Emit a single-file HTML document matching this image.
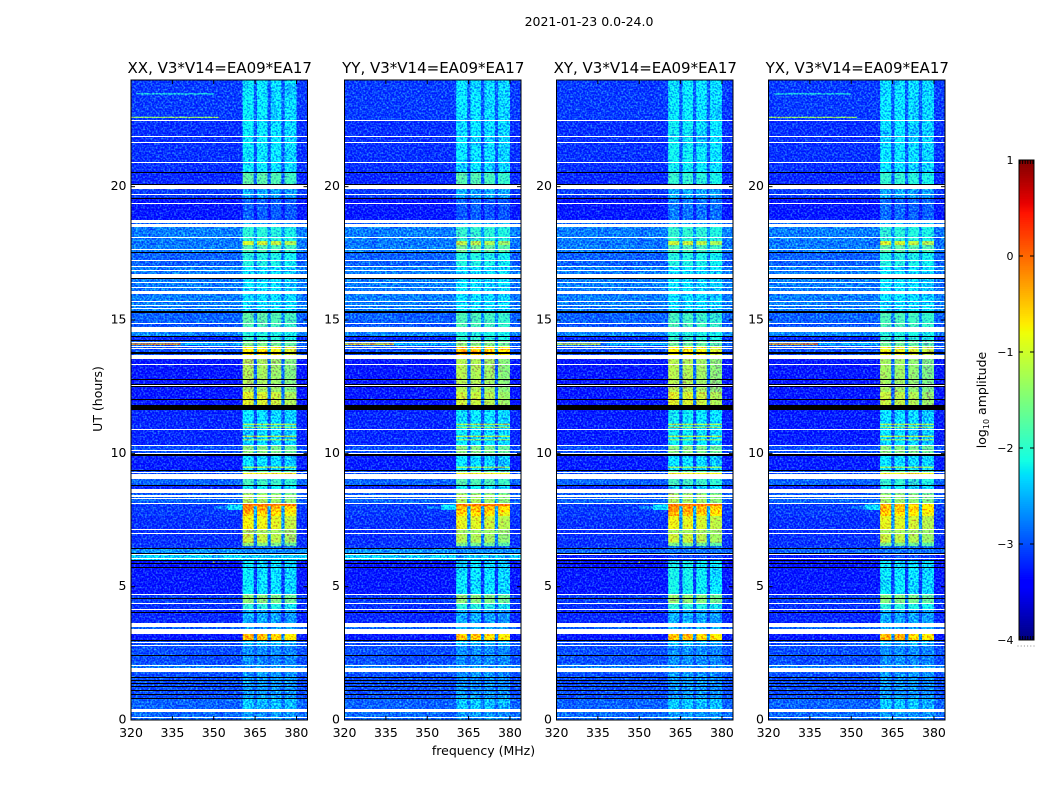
<!DOCTYPE html>
<html lang="en">
<head>
<meta charset="utf-8">
<title>2021-01-23 dynamic spectra</title>
<style>
html,body{margin:0;padding:0;background:#fff;width:1050px;height:800px;overflow:hidden}
svg{display:block;font-family:"DejaVu Sans","Liberation Sans",sans-serif;fill:#000}
</style>
</head>
<body>
<svg id="fig" xmlns="http://www.w3.org/2000/svg" width="1050" height="800" viewBox="0 0 1050 800">
<defs>
<filter id="grain" x="0" y="0" width="100%" height="100%" color-interpolation-filters="sRGB">
<feTurbulence type="fractalNoise" baseFrequency="0.55" numOctaves="1" seed="7" result="n"/>
<feTurbulence type="fractalNoise" baseFrequency="0.09 0.04" numOctaves="2" seed="11" result="lo"/>
<feColorMatrix in="n" type="matrix" values="0 0 0 0 1  1.8 0 0 0 0.1  0 0 0 0 1  0 0 0 0 1" result="m1"/>
<feColorMatrix in="lo" type="matrix" values="0 0 0 0 1  1.0 0 0 0 0.55  0 0 0 0 1  0 0 0 0 1" result="m2"/>
<feColorMatrix in="n" type="matrix" values="0.6 0 0 0 -0.28  1.3 0 0 0 -0.55  0 0 0 0 0  0 0 0 0 1" result="add"/>
<feComposite in="SourceGraphic" in2="m1" operator="arithmetic" k1="1" k2="0" k3="0" k4="0" result="a"/>
<feComposite in="a" in2="m2" operator="arithmetic" k1="1" k2="0" k3="0" k4="0" result="b"/>
<feComposite in="b" in2="add" operator="arithmetic" k1="0" k2="1" k3="1" k4="0"/>
</filter>
</defs>
<rect width="1050" height="800" fill="#fff"/>
<text x="589" y="26" font-size="12.5" text-anchor="middle">2021-01-23 0.0-24.0</text>
<text x="483.5" y="755" font-size="12.5" text-anchor="middle">frequency (MHz)</text>
<text transform="translate(102,399) rotate(-90)" font-size="12.5" text-anchor="middle">UT (hours)</text>
<text transform="translate(986,400) rotate(-90)" font-size="12.5" text-anchor="middle">log<tspan font-size="8" dy="3">10</tspan><tspan dy="-3"> amplitude</tspan></text>
<g id="panels"></g>
<g id="colorbar"></g>
</svg>
<script>
// ---- categories and tick labels ----
const panelTitles = ["XX, V3*V14=EA09*EA17","YY, V3*V14=EA09*EA17","XY, V3*V14=EA09*EA17","YX, V3*V14=EA09*EA17"];
const panelPols = ["XX","YY","XY","YX"];
const xTicks = [320,335,350,365,380];
const yTicks = [0,5,10,15,20];
const colorTicks = [-4,-3,-2,-1,0,1];
// ---- frequency channels (MHz) and how strongly each follows the in-band level ----
const channelEdges = [320,360.5,362.5,364.5,365.7,367.5,369.5,370.7,372.5,374.5,375.7,377.5,380,384];
const channelWeight = [0,1,0.98,0.2,0.96,0.98,0.2,0.94,0.93,0.2,0.88,0.86,0];
// ---- time blocks: top edge (UT hours), log10 amplitude levels ----
const blockTop = [24,22.5,20.55,20.1,19.59,18.75,18.49,17.96,17.81,17.51,16.99,16.1,15.96,15.3,14.85,14.75,14.55,14.38,14.25,14,13.54,12.3,11.8,11.63,10.3,10,9.96,9.38,9.04,8.8,8.66,8.5,8.1,7.8,7.65,7.13,6.65,6.52,6.45,6.24,6,4.69,4.35,4.13,3.63,3.24,3,2.79,2.08,1.79,0.84,0.41];
const bgParallel = [-3.2,-3.25,-3.3,-3.2,-3.45,-3.0,-2.85,-2.9,-2.85,-3.0,-2.85,-3.0,-2.85,-3.0,-3.1,-2.85,-2.8,-3.3,-3.0,-3.1,-3.4,-3.4,-3.6,-3.3,-3.1,-3.0,-3.35,-3.1,-3.0,-3.3,-3.2,-3.0,-3.2,-3.2,-3.25,-3.25,-3.25,-3.2,-2.75,-2.4,-3.45,-3.2,-3.25,-3.3,-3.0,-3.4,-3.1,-3.1,-2.85,-3.1,-3.0,-2.95];
const bgCross = [-3.2,-3.25,-3.3,-3.2,-3.45,-3.0,-2.85,-2.9,-2.85,-3.0,-2.85,-3.0,-2.85,-3.0,-3.1,-2.85,-2.8,-3.3,-3.0,-3.1,-3.4,-3.4,-3.6,-3.35,-3.1,-3.0,-3.35,-3.1,-3.0,-3.3,-3.2,-3.0,-3.2,-3.2,-3.25,-3.25,-3.25,-3.2,-3.0,-3.35,-3.45,-3.2,-3.25,-3.3,-3.0,-3.4,-3.1,-3.1,-2.85,-3.1,-3.0,-2.95];
const bandXX = [-2.25,-2.25,-1.75,-2.6,-3.0,-2.6,-2.05,-1.0,-1.85,-2.1,-2.3,-2.4,-2.3,-1.75,-1.8,-2.1,-2.1,-2.0,-1.55,-0.7,-1.25,-0.95,-3.3,-2.3,-1.5,-2.4,-2.3,-1.7,-1.9,-2.2,-2,-1.25,-0.15,-0.45,-0.8,-1.05,-1.45,-2.9,-2.8,-2.5,-2.25,-1.45,-2.05,-2.6,-2.6,-0.3,-2.5,-2.75,-2.7,-2.7,-2.45,-2.7];
const bandYY = [-2.3,-2.3,-1.8,-2.6,-3.0,-2.6,-2.0,-1.15,-1.65,-2.1,-2.3,-2.4,-2.3,-1.85,-1.8,-2.1,-2.1,-2.0,-1.45,-0.3,-1.2,-1.05,-3.3,-2.25,-1.5,-2.4,-2.3,-1.7,-1.8,-2.2,-2,-1.25,-0.3,-0.5,-0.9,-1.2,-1.55,-2.9,-2.8,-2.5,-2.25,-1.45,-2.05,-2.6,-2.6,-0.35,-2.5,-2.75,-2.7,-2.7,-2.45,-2.7];
const bandXY = [-2.25,-2.2,-2.0,-2.6,-2.85,-2.6,-2.0,-1.05,-1.85,-2.1,-2.3,-2.4,-2.3,-1.9,-1.8,-2.1,-2.1,-2.0,-1.65,-0.7,-1.2,-0.95,-3.3,-2.2,-1.5,-2.4,-2.3,-1.7,-1.9,-2.2,-2,-1.25,-0.1,-0.25,-0.85,-1.05,-1.55,-2.9,-2.9,-3.1,-2.15,-1.4,-2.05,-2.6,-2.6,-0.35,-2.5,-2.75,-2.7,-2.7,-2.45,-2.7];
const bandYX = [-2.3,-2.3,-2.0,-2.6,-2.95,-2.6,-2.05,-1.0,-1.75,-2.1,-2.3,-2.4,-2.3,-1.85,-1.8,-2.1,-2.1,-2.0,-1.65,-0.85,-1.3,-1.1,-3.3,-2.3,-1.5,-2.4,-2.3,-1.7,-2.0,-2.2,-2,-1.35,-0.3,-0.5,-0.9,-1.1,-1.55,-2.9,-2.9,-3.1,-2.25,-1.5,-2.05,-2.6,-2.6,-0.35,-2.5,-2.75,-2.7,-2.7,-2.45,-2.7];
// ---- narrow features: [top UT, bottom UT, first MHz, last MHz, level, polarisations] ----
const events = [
 [14.12,14.07,320,338,-0.1,"XX YX"],[14.12,14.07,320,338,-0.7,"YY"],[14.12,14.07,320,336,-1.0,"XY"],
 [14.12,14.07,338,360,-2.3,"XX YY XY YX"],
 [23.5,23.46,322,350,-2.1,"XX YX"],[22.62,22.58,320,352,-1.3,"XX YX"],
 [11.11,11.07,360.5,380,-1.0,"XX YY XY YX"],[11.0,10.96,360.5,380,-1.1,"XX YY XY YX"],
 [10.66,10.62,360.5,380,-1.0,"XX YY XY YX"],[10.53,10.49,360.5,380,-1.3,"XX YY XY YX"],
 [9.5,9.46,360.5,380,-1.1,"XX YY XY YX"],[9.26,9.22,360.5,380,-0.8,"XX YY XY YX"],
 [8.08,7.88,355,360.5,-2.3,"XX YY XY YX"],[8.02,7.92,350,355,-2.8,"XX YY XY YX"],
 [8.1,8.02,360.5,380,0.0,"XX YY XY"],
 [7.1,7.02,360.5,380,-1.4,"XX YY XY YX"],
 [5.94,5.9,349.8,350.3,-1.0,"XX XY"],[9.96,9.92,349.8,350.3,-1.0,"XX"]
];
// ---- flagged rows: [top UT, bottom UT] ----
const whiteGaps = [[22.5,22.46],[21.9,21.86],[21.68,21.64],[20.93,20.89],[20.05,19.92],[19.73,19.69],[19.39,19.35],[18.75,18.65],[18.61,18.49],[18.11,18.08],[17.66,17.63],[17.25,17.21],[17.03,16.99],[16.88,16.84],[16.74,16.56],[16.43,16.39],[16.24,16.2],[16.1,15.96],[15.71,15.68],[15.56,15.53],[15.45,15.41],[14.89,14.85],[14.75,14.55],[14.18,14.14],[14.04,14.0],[13.95,13.91],[13.69,13.54],[13.35,13.31],[12.56,12.51],[10.91,10.88],[10.31,10.28],[10.13,10.09],[10.0,9.96],[9.3,9.26],[9.23,9.04],[8.66,8.5],[8.42,8.38],[8.31,8.27],[8.14,8.1],[7.16,7.13],[7.01,6.98],[6.24,6.17],[6.08,6.04],[4.73,4.69],[4.39,4.35],[4.16,4.13],[3.63,3.48],[3.41,3.24],[2.93,2.89],[2.83,2.79],[2.08,2.04],[1.94,1.79],[0.41,0.3],[0.11,0.08]];
const blackGaps = [[20.55,20.51],[20.1,20.05],[19.59,19.53],[17.55,17.51],[16.56,16.52],[15.34,15.27],[14.4,14.36],[14.25,14.21],[13.8,13.74],[12.79,12.75],[12.6,12.56],[12.51,12.47],[12.04,12.0],[11.8,11.63],[9.96,9.9],[9.38,9.34],[8.81,8.78],[6.45,6.41],[6.28,6.24],[6.0,5.96],[5.89,5.85],[5.74,5.7],[4.58,4.54],[4.05,4.01],[3.0,2.96],[2.44,2.4],[1.61,1.57],[1.5,1.46],[1.39,1.35],[1.26,1.22],[1.13,1.09],[0.98,0.94],[0.84,0.8]];

// ---- layout and scales ----
const panelLeft = [131,344.5,556.5,768.5];
const panelWidth = 176.5, plotTop = 80, plotBottom = 720;
const freqMin = 320, freqMax = 384, utMax = 24;
const xScale = (left, f) => left + (f - freqMin) / (freqMax - freqMin) * panelWidth;
const yScale = t => plotBottom - t / utMax * (plotBottom - plotTop);
const cbLeft = 1019, cbRight = 1034, cbTop = 160, cbBottom = 640, cbMin = -4, cbMax = 1;
const cbScale = v => cbBottom - (v - cbMin) / (cbMax - cbMin) * (cbBottom - cbTop);
const clamp01 = x => Math.max(0, Math.min(1, x));
function jet(v) {
  const t = clamp01((v - cbMin) / (cbMax - cbMin));
  const r = t < 0.35 ? 0 : t < 0.66 ? (t - 0.35) / 0.31 : t < 0.89 ? 1 : 1 - (t - 0.89) / 0.11 * 0.5;
  const g = t < 0.125 ? 0 : t < 0.375 ? (t - 0.125) / 0.25 : t < 0.64 ? 1 : t < 0.91 ? 1 - (t - 0.64) / 0.27 : 0;
  const b = t < 0.11 ? 0.5 + t / 0.11 * 0.5 : t < 0.34 ? 1 : t < 0.65 ? 1 - (t - 0.34) / 0.31 : 0;
  return "rgb(" + Math.round(r * 255) + "," + Math.round(g * 255) + "," + Math.round(b * 255) + ")";
}
const NS = "http://www.w3.org/2000/svg";
function mk(parent, tag, attrs) {
  const el = document.createElementNS(NS, tag);
  for (const k in attrs) el.setAttribute(k, attrs[k]);
  parent.appendChild(el);
  return el;
}
const bandByPanel = [bandXX, bandYY, bandXY, bandYX];
const bgByPanel = [bgParallel, bgParallel, bgCross, bgCross];
const panelsRoot = document.getElementById("panels");

panelTitles.forEach(function (title, p) {
  const left = panelLeft[p], right = left + panelWidth;
  const panel = mk(panelsRoot, "g", {});
  
  

  const clipId = "clip" + p;
  const defsClip = mk(panel, "clipPath", { id: clipId });
  mk(defsClip, "rect", { x: left, y: plotTop, width: panelWidth, height: plotBottom - plotTop });

  const plot = mk(panel, "g", { "clip-path": "url(#" + clipId + ")" });
  
  
  const cells = mk(plot, "g", { filter: "url(#grain)" });

  blockTop.forEach(function (top, b) {
    const bottom = b + 1 < blockTop.length ? blockTop[b + 1] : 0;
    const bg = bgByPanel[p][b], band = bandByPanel[p][b];
    channelWeight.forEach(function (w, c) {
      const x0 = xScale(left, channelEdges[c]), x1 = xScale(left, channelEdges[c + 1]);
      const y0 = yScale(top), y1 = yScale(bottom);
      const cell = mk(cells, "rect", { x: x0, y: y0, width: x1 - x0 + 0.3, height: y1 - y0 + 0.3, fill: jet(bg + w * (band - bg)) });
      
      
    });
  });

  events.forEach(function (e) {
    if (e[5].split(" ").indexOf(panelPols[p]) < 0) return;
    const x0 = xScale(left, e[2]), x1 = xScale(left, e[3]), y0 = yScale(e[0]), y1 = yScale(e[1]);
    const mark = mk(cells, "rect", { x: x0, y: y0, width: x1 - x0, height: y1 - y0, fill: jet(e[4]) });
    
    
  });

  function flagRow(g, colour, name) {
    const y0 = Math.round(yScale(g[0]));
    const y1 = Math.max(y0 + 1, Math.round(yScale(g[1])));
    const r = mk(plot, "rect", { x: left, y: y0, width: panelWidth, height: y1 - y0, fill: colour, "shape-rendering": "crispEdges" });
    
    
  }
  whiteGaps.forEach(function (g) { flagRow(g, "#fff", "flagged-row-white"); });
  blackGaps.forEach(function (g) { flagRow(g, "#000", "flagged-row-black"); });

  const frame = mk(panel, "rect", { x: left, y: plotTop, width: panelWidth, height: plotBottom - plotTop, fill: "none", stroke: "#000", "stroke-width": 1 });
  
  

  const titleEl = mk(panel, "text", { x: left + panelWidth / 2 + 0.5, y: 73, "font-size": 15, "text-anchor": "middle" });
  
  
  titleEl.textContent = title;

  xTicks.forEach(function (f) {
    const x = xScale(left, f);
    const t1 = mk(panel, "line", { x1: x, x2: x, y1: plotBottom, y2: plotBottom - 4, stroke: "#000" });
    
    
    const t2 = mk(panel, "line", { x1: x, x2: x, y1: plotTop, y2: plotTop + 4, stroke: "#000" });
    
    
    const lab = mk(panel, "text", { x: x, y: 737, "font-size": 12.5, "text-anchor": "middle" });
    
    
    lab.textContent = f;
  });
  yTicks.forEach(function (t) {
    const y = yScale(t);
    const t1 = mk(panel, "line", { x1: left, x2: left + 4, y1: y, y2: y, stroke: "#000" });
    
    
    const t2 = mk(panel, "line", { x1: right, x2: right - 4, y1: y, y2: y, stroke: "#000" });
    
    
    const lab = mk(panel, "text", { x: left - 4.5, y: y + 3.5, "font-size": 12.5, "text-anchor": "end" });
    
    
    lab.textContent = t;
  });
});

// ---- colorbar ----
const cbRoot = document.getElementById("colorbar");
for (let v = cbMin; v < cbMax; v += 0.02) {
  const seg = mk(cbRoot, "rect", { x: cbLeft, y: cbScale(v + 0.02), width: cbRight - cbLeft, height: cbScale(v) - cbScale(v + 0.02) + 0.4, fill: jet(v + 0.01) });
  
  
}
const cbFrame = mk(cbRoot, "rect", { x: cbLeft, y: cbTop, width: cbRight - cbLeft, height: cbBottom - cbTop, fill: "none", stroke: "#000", "stroke-width": 1 });


colorTicks.forEach(function (v) {
  const y = cbScale(v);
  const t1 = mk(cbRoot, "line", { x1: cbLeft, x2: cbLeft + 4, y1: y, y2: y, stroke: "#000" });
  
  
  const t2 = mk(cbRoot, "line", { x1: cbRight, x2: cbRight - 4, y1: y, y2: y, stroke: "#000" });
  
  
  const lab = mk(cbRoot, "text", { x: cbLeft - 5.5, y: y + 4, "font-size": 11, "text-anchor": "end" });
  
  
  lab.textContent = String(v).replace("-", "\u2212");
});
[0, 1, 2, 3, 4, 5].forEach(function (i) {
  const x = cbLeft - 1.5 + i * 3.2;
  const d = mk(cbRoot, "rect", { x: x, y: 645.5, width: 1, height: 1, fill: "#888" });
  
  
  const top = mk(cbRoot, "line", { x1: cbLeft + 1 + i * 2.6, x2: cbLeft + 1 + i * 2.6, y1: cbTop, y2: cbTop + 4, stroke: "#000" });
  
  
  const bot = mk(cbRoot, "line", { x1: cbLeft + 1 + i * 2.6, x2: cbLeft + 1 + i * 2.6, y1: cbBottom, y2: cbBottom - 4, stroke: "#000" });
  
  
});
</script>
</body>
</html>
